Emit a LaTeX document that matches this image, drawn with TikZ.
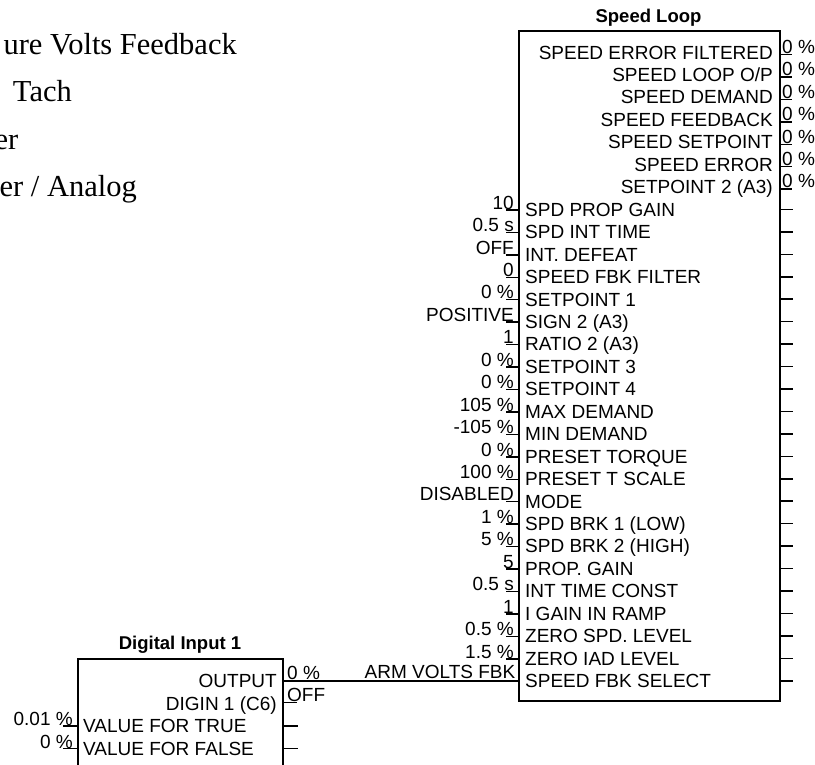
\documentclass[tikz,border=0pt]{standalone}
\usepackage{fontspec}
\setmainfont{Liberation Sans}
\newfontfamily\tnr{Liberation Serif}
\begin{document}
\begin{tikzpicture}[x=1pt,y=-1pt,
  lab/.style={font=\fontsize{19}{19}\selectfont, inner sep=0pt},
  ttl/.style={font=\fontsize{18.5}{18.5}\selectfont\bfseries, inner sep=0pt, anchor=base},
  blk/.style={draw, line width=1.8pt, inner sep=0pt, anchor=north west},
  tk/.style={line width=1.5pt},
  serif/.style={font=\fontsize{30.5}{30.5}\selectfont\tnr, inner sep=0pt, anchor=base east}]
\useasboundingbox (0,0) rectangle (815,765);
\clip (0,0) rectangle (815,765);
\fill[white] (0,0) rectangle (815,765);

% partial text at top left
\node[serif] (t1) at (237,55) {ure Volts Feedback};
\node[serif] (t2) at (72,101.7) {Tach};
\node[serif] (t3) at (18.5,150) {er};
\node[serif] (t4) at (137,196.7) {er / Analog};

% Speed Loop block
\node[blk, minimum width=261pt, minimum height=670pt] (sl) at (518,30) {};
\node[ttl] (slt) at (648.5,22.5) {Speed Loop};

\foreach \t [count=\k from 0] in {SPEED ERROR FILTERED, SPEED LOOP O/P, SPEED DEMAND, SPEED FEEDBACK, SPEED SETPOINT, SPEED ERROR, SETPOINT 2 (A3)} {
  \pgfmathsetmacro\yy{52.3+22.446*\k}
  \node[lab, anchor=base east] (so\k) at (773,\yy+6.8) {\t};
  \coordinate (soa\k) at (779,\yy+2.2);
  \coordinate (sob\k) at (792,\yy+2.2);
  \draw[tk] (soa\k) -- (sob\k);
  \node[lab, anchor=base west] (sov\k) at (782,\yy+1) {0 \%};
}

\foreach \t/\v [count=\i from 0] in {SPD PROP GAIN/10, SPD INT TIME/0.5 s, INT. DEFEAT/OFF, SPEED FBK FILTER/0, SETPOINT 1/0 \%, SIGN 2 (A3)/POSITIVE, RATIO 2 (A3)/1, SETPOINT 3/0 \%, SETPOINT 4/0 \%, MAX DEMAND/105 \%, MIN DEMAND/-105 \%, PRESET TORQUE/0 \%, PRESET T SCALE/100 \%, MODE/DISABLED, SPD BRK 1 (LOW)/1 \%, SPD BRK 2 (HIGH)/5 \%, PROP. GAIN/5, INT TIME CONST/0.5 s, I GAIN IN RAMP/1, ZERO SPD. LEVEL/0.5 \%, ZERO IAD LEVEL/1.5 \%} {
  \pgfmathsetmacro\yy{52.3+22.446*(\i+7)}
  \node[lab, anchor=base west] (si\i) at (525,\yy+6.8) {\t};
  \node[lab, anchor=base east] (siv\i) at (514,\yy-0.3) {\v};
  \coordinate (sia\i) at (506,\yy+0.5);
  \coordinate (sib\i) at (518,\yy+0.5);
  \draw[tk] (sia\i) -- (sib\i);
  \coordinate (sic\i) at (779,\yy);
  \coordinate (sid\i) at (793,\yy);
  \draw[tk] (sic\i) -- (sid\i);
}
% last input row
\node[lab, anchor=base west] (si21) at (525,687.6) {SPEED FBK SELECT};
\coordinate (sic21) at (779,680.8);
\coordinate (sid21) at (793,680.8);
\draw[tk] (sic21) -- (sid21);

% Digital Input 1 block
\node[blk, minimum width=205pt, minimum height=140pt] (di) at (77.3,658.3) {};
\node[ttl] (dit) at (180,649.5) {Digital Input 1};

\node[lab, anchor=base east] (do0) at (277,687.6) {OUTPUT};
\node[lab, anchor=base east] (do1) at (277,710.1) {DIGIN 1 (C6)};
\node[lab, anchor=base west] (dn0) at (83,732.5) {VALUE FOR TRUE};
\node[lab, anchor=base west] (dn1) at (83,755) {VALUE FOR FALSE};

% connection OUTPUT -> SPEED FBK SELECT
\coordinate (dout) at (282.5,681);
\coordinate (sin) at (518,681);
\draw[tk] (dout) -- (sin);
\node[lab, anchor=base west] (dov0) at (287,679) {0 \%};
\node[lab, anchor=base east] (conn) at (515.5,678.8) {ARM VOLTS FBK};

% DIGIN 1 output
\coordinate (d1a) at (282.5,702.5);
\coordinate (d1b) at (297,702.5);
\draw[tk] (d1a) -- (d1b);
\node[lab, anchor=base west] (dov1) at (287,701.5) {OFF};
\coordinate (d2a) at (282.5,726);
\coordinate (d2b) at (297.5,726);
\draw[tk] (d2a) -- (d2b);
\coordinate (d3a) at (282.5,748.5);
\coordinate (d3b) at (297.5,748.5);
\draw[tk] (d3a) -- (d3b);

% DI inputs
\node[lab, anchor=base east] (dnv0) at (73,725.5) {0.01 \%};
\coordinate (dia0) at (63,726.2);
\coordinate (dib0) at (77.3,726.2);
\draw[tk] (dia0) -- (dib0);
\node[lab, anchor=base east] (dnv1) at (73,748) {0 \%};
\coordinate (dia1) at (63,748.6);
\coordinate (dib1) at (77.3,748.6);
\draw[tk] (dia1) -- (dib1);
\end{tikzpicture}
\end{document}
